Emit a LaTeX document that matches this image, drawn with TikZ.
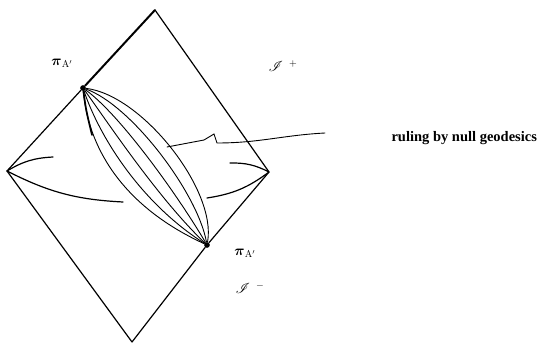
\documentclass[tikz,border=0pt]{standalone}
\usepackage{fontspec}
\usepackage{amsmath,amssymb,mathrsfs}
\newfontfamily\rulefont{Liberation Serif}
\usetikzlibrary{calc}
\begin{document}
\begin{tikzpicture}[
   x=1pt,y=-1pt,
   edge/.style={line width=1.2pt,line cap=round,line join=round},
   geod/.style={line width=0.9pt,line cap=round},
   vert/.style={circle,fill=black,inner sep=2pt},
   every node/.style={font=\Large}
 ]
  \useasboundingbox (0,0) rectangle (545,342);

  % corners of the diamond
  \coordinate (top) at (155,10);
  \coordinate (right) at (269,172);
  \coordinate (bottom) at (132,342);
  \coordinate (left) at (7,171);

  \node[vert] (pu) at (83,88) {};
  \node[vert] (pl) at (207,245) {};

  \draw[edge] (left)--(pu);
  \draw[edge,line width=2pt] (pu)--(top);
  \draw[edge] (top)--(right)--(pl);
  \draw[edge] (pl)--(bottom)--(left);

  % null geodesics between the two points
  \coordinate (cl1) at (88,145);
  \coordinate (cl2) at (120,205);
  \coordinate (cr1) at (142,95);
  \coordinate (cr2) at (217,190);
  \foreach \t in {0,0.2,0.4,0.6,0.8,1}
    \draw[geod] (pu) .. controls ($(cl1)!\t!(cr1)$) and ($(cl2)!\t!(cr2)$) .. (pl);
  \draw[edge,line width=1.7pt] (pu) .. controls (86,110) .. (92,135);

  % side arcs
  \coordinate (la) at (53,157);
  \coordinate (lb) at (123,202);
  \coordinate (ra) at (230,163);
  \coordinate (rb) at (207,198);
  \draw[edge] (left) to[bend left=14] (la);
  \draw[edge] (left) to[bend right=12] (lb);
  \draw[edge] (right) to[bend right=14] (ra);
  \draw[edge] (right) to[bend left=14] (rb);

  % pointer
  \coordinate (ws) at (167,147);
  \coordinate (we) at (325,133);
  \draw[geod] (ws)--(204,140)--(214,134)--(217,143) to[out=0,in=183] (we);

  \node (lu) at (62,63) {$\boldsymbol{\pi}_{\mathrm{A'}}$};
  \node (ll) at (245,253) {$\boldsymbol{\pi}_{\mathrm{A'}}$};
  \node (sp) at (283,66) {$\mathscr{I}^{\hspace{6pt}+}$};
  \node (sm) at (250,288) {$\mathscr{I}^{\hspace{6pt}-}$};
  \node[anchor=base west,font=\rulefont\bfseries\fontsize{14.5}{16}\selectfont] (rl) at (388,141) {ruling by null geodesics};
 \end{tikzpicture}
\end{document}
